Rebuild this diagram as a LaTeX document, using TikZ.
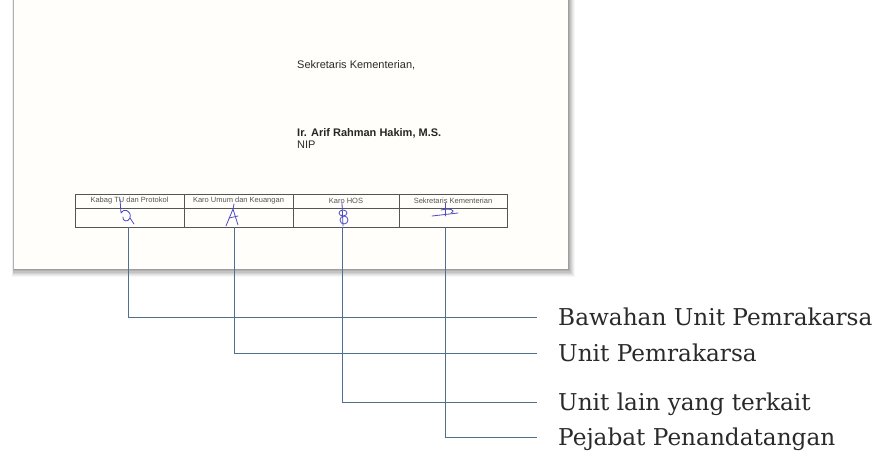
\documentclass[tikz,border=0pt]{standalone}
\usepackage{fontspec}
\setmainfont{Liberation Sans}
\newfontfamily\labelfont{DejaVu Serif}
\definecolor{linecol}{HTML}{4F6F8F}
\definecolor{inkcol}{HTML}{4B4BC8}
\definecolor{pagecol}{HTML}{FFFEFA}
\definecolor{labelcol}{HTML}{2A2A2A}
\definecolor{gridcol}{HTML}{555555}
\begin{document}
\begin{tikzpicture}[x=1pt,y=-1pt,
  cellhead/.style={font=\fontsize{7.5}{8}\selectfont, text=gridcol, inner sep=0pt},
  pagetext/.style={font=\fontsize{11}{12}\selectfont, text=labelcol, anchor=west, inner sep=0pt},
  labeltext/.style={font=\labelfont\fontsize{23.2}{25}\selectfont, text=labelcol, anchor=base west, inner sep=0pt},
  connector/.style={draw=linecol, line width=1pt},
  ink/.style={draw=inkcol, line width=0.8pt, line cap=round, line join=round},
  grid/.style={draw=gridcol, line width=0.8pt}]
\useasboundingbox (0,0) rectangle (878,460);
\fill[white] (0,0) rectangle (878,460);

% page shadow
\foreach \i/\o in {7/0.03,6/0.04,5/0.05,4/0.06,3/0.07,2/0.09,1/0.11}
  \fill[black,opacity=\o] (14-\i*0.3,-10) rectangle (568+\i,269+\i*1.2);
\fill[pagecol] (14,-10) rectangle (568,269);

% page text
\node[pagetext] (sek) at (297,65) {Sekretaris Kementerian,};
\node[pagetext, font=\bfseries\fontsize{11}{12}\selectfont, text=black!85] (nama) at (297,133) {Ir. Arif Rahman Hakim, M.S.};
\node[pagetext] (nip) at (297,145) {NIP};

% table
\draw[grid] (75,194) rectangle (507,227);
\draw[grid] (75,208) -- (507,208);
\foreach \x in {184,293,399} \draw[grid] (\x,194) -- (\x,227);
\node[cellhead] (h1) at (129.5,201) {Kabag TU dan Protokol};
\node[cellhead] (h2) at (238.5,201) {Karo Umum dan Keuangan};
\node[cellhead] (h3) at (346,201) {Karo HOS};
\node[cellhead] (h4) at (453,201) {Sekretaris Kementerian};

% signatures
\draw[ink] (120,199) -- (121,213) .. controls (123,208) and (132,210) .. (130,218)
  .. controls (128,223) and (122,221) .. (123,217);
\draw[ink] (130,218) -- (134,224);
\draw[ink] (226,226) -- (233,209) -- (238,225);
\draw[ink] (229,218) -- (238,216);
\draw[ink] (233,209) -- (234,204);
\draw[ink] (342,203) -- (343,226);
\draw[ink] (343,213) ellipse [x radius=4, y radius=3];
\draw[ink] (344,220) ellipse [x radius=4, y radius=4];
\draw[ink] (445,203) -- (445,216);
\draw[ink] (432,216) -- (458,213);
\draw[ink] (441,210) .. controls (449,208) and (457,210) .. (451,213);

% connector anchors
\coordinate (t1) at (128,227);
\coordinate (t2) at (234,227);
\coordinate (t3) at (342,227);
\coordinate (t4) at (445,227);
\coordinate (e1) at (537,317);
\coordinate (e2) at (537,353);
\coordinate (e3) at (537,402);
\coordinate (e4) at (537,437);

% labels
\node[labeltext] (l1) at (558,325) {Bawahan Unit Pemrakarsa};
\node[labeltext] (l2) at (558,361) {Unit Pemrakarsa};
\node[labeltext] (l3) at (558,410) {Unit lain yang terkait};
\node[labeltext] (l4) at (558,445) {Pejabat Penandatangan};

% connectors
\draw[connector] (t1) |- (e1);
\draw[connector] (t2) |- (e2);
\draw[connector] (t3) |- (e3);
\draw[connector] (t4) |- (e4);
\end{tikzpicture}
\end{document}
